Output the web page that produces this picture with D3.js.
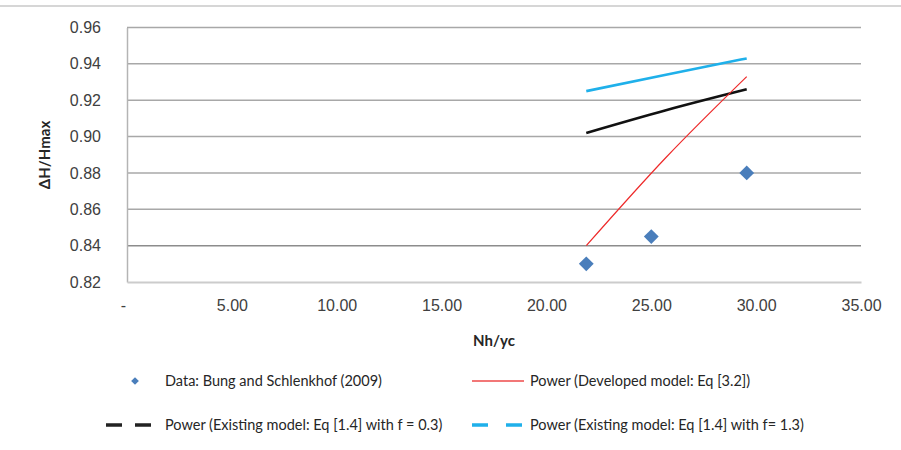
<!DOCTYPE html>
<html>
<head>
<meta charset="utf-8">
<script src="https://cdn.jsdelivr.net/npm/d3@7"></script>
<style>
  body { margin: 0; background: #fff; }
  svg { font-family: Lato, "Open Sans", sans-serif; }
</style>
</head>
<body>
<svg width="901" height="450"></svg>
<script>
// values
var xTicks = [0, 5, 10, 15, 20, 25, 30, 35];
var yTicks = [0.82, 0.84, 0.86, 0.88, 0.90, 0.92, 0.94, 0.96];

var dataX = [21.9, 25.0, 29.55];
var dataY = [0.830, 0.845, 0.880];

var devX = [21.9, 25.7, 29.55];
var devY = [0.840, 0.8885, 0.933];

var f03X = [21.9, 25.7, 29.55];
var f03Y = [0.902, 0.9145, 0.926];

var f13X = [21.9, 25.7, 29.55];
var f13Y = [0.925, 0.934, 0.943];

var legendLabels = [
  "Data: Bung and Schlenkhof (2009)",
  "Power (Developed model: Eq [3.2])",
  "Power (Existing model: Eq [1.4] with f = 0.3)",
  "Power (Existing model: Eq [1.4] with f= 1.3)"
];

var svg = d3.select("svg");

var x = d3.scaleLinear().domain([0, 35]).range([127, 861]);
var y = d3.scaleLinear().domain([0.82, 0.96]).range([282, 27.5]);

// frame line at top
svg.append("line")
  .attr("x1", 0).attr("x2", 901).attr("y1", 6).attr("y2", 6)
  .attr("stroke", "#c8c8c8").attr("stroke-width", 1.5);

// gridlines
svg.append("g")
  .selectAll("line")
  .data(yTicks.slice(1))
  .enter().append("line")
  .attr("x1", x(0)).attr("x2", x(35))
  .attr("y1", function (d) { return y(d); })
  .attr("y2", function (d) { return y(d); })
  .attr("stroke", function (d) { return Math.abs(d - 0.84) < 1e-6 ? "#8c8c8c" : "#a8a8a8"; })
  .attr("stroke-width", 1.5);

// y axis
var yAxis = svg.append("g")
  .attr("transform", "translate(" + x(0) + ",0)")
  .call(d3.axisLeft(y).tickValues(yTicks).tickFormat(d3.format(".2f")).tickSize(0).tickPadding(26));
yAxis.select(".domain").attr("stroke", "#b4b4b4").attr("stroke-width", 1.5);
yAxis.selectAll("text").attr("font-size", 16).attr("fill", "#404040");

// x axis
var xAxis = svg.append("g")
  .attr("transform", "translate(0," + y(0.82) + ")")
  .call(d3.axisBottom(x).tickValues(xTicks)
    .tickFormat(function (d) { return d === 0 ? "-" : d3.format(".2f")(d); })
    .tickSize(0).tickPadding(18));
xAxis.select(".domain").attr("stroke", "#cccccc").attr("stroke-width", 2);
xAxis.selectAll("text").attr("font-size", 16).attr("fill", "#404040");
xAxis.selectAll(".tick").filter(function (d) { return d === 0; })
  .select("text").attr("dx", -4);

// axis titles
svg.append("text")
  .attr("transform", "translate(50,155) rotate(-90)")
  .attr("text-anchor", "middle")
  .attr("font-size", 15).attr("font-weight", "bold").attr("fill", "#262626")
  .text("\u0394H/Hmax");

svg.append("text")
  .attr("x", 494).attr("y", 346)
  .attr("text-anchor", "middle")
  .attr("font-size", 15).attr("font-weight", "bold").attr("fill", "#262626")
  .text("Nh/yc");

var line = d3.line()
  .x(function (d) { return x(d[0]); })
  .y(function (d) { return y(d[1]); })
  .curve(d3.curveMonotoneX);

function pairs(xs, ys) {
  return xs.map(function (v, i) { return [v, ys[i]]; });
}

svg.append("path").datum(pairs(f13X, f13Y))
  .attr("d", line).attr("fill", "none")
  .attr("stroke", "#1fb0ea").attr("stroke-width", 2.6);

svg.append("path").datum(pairs(f03X, f03Y))
  .attr("d", line).attr("fill", "none")
  .attr("stroke", "#111111").attr("stroke-width", 2.6);

svg.append("path").datum(pairs(devX, devY))
  .attr("d", line).attr("fill", "none")
  .attr("stroke", "#ee2a2a").attr("stroke-width", 1.2);

var diamond = d3.symbol().type(d3.symbolSquare).size(110);

svg.append("g")
  .selectAll("path")
  .data(pairs(dataX, dataY))
  .enter().append("path")
  .attr("d", diamond)
  .attr("transform", function (d) {
    return "translate(" + x(d[0]) + "," + y(d[1]) + ") rotate(45)";
  })
  .attr("fill", "#4a7ebb");

// legend
var legend = svg.append("g").attr("font-size", 14.5).attr("fill", "#262626");

legend.append("path")
  .attr("d", d3.symbol().type(d3.symbolSquare).size(30))
  .attr("transform", "translate(135,381) rotate(45)")
  .attr("fill", "#4a7ebb");
legend.append("text").attr("x", 165).attr("y", 386).text(legendLabels[0]);

legend.append("line")
  .attr("x1", 472).attr("x2", 524).attr("y1", 381).attr("y2", 381)
  .attr("stroke", "#ee4a4a").attr("stroke-width", 1.5);
legend.append("text").attr("x", 530).attr("y", 386).text(legendLabels[1]);

legend.append("line")
  .attr("x1", 106).attr("x2", 152).attr("y1", 425).attr("y2", 425)
  .attr("stroke", "#222").attr("stroke-width", 3.5).attr("stroke-dasharray", "16,13");
legend.append("text").attr("x", 165).attr("y", 430).text(legendLabels[2]);

legend.append("line")
  .attr("x1", 472).attr("x2", 524).attr("y1", 425).attr("y2", 425)
  .attr("stroke", "#1fb0ea").attr("stroke-width", 3.5).attr("stroke-dasharray", "16,18");
legend.append("text").attr("x", 530).attr("y", 430).text(legendLabels[3]);
</script>
</body>
</html>
